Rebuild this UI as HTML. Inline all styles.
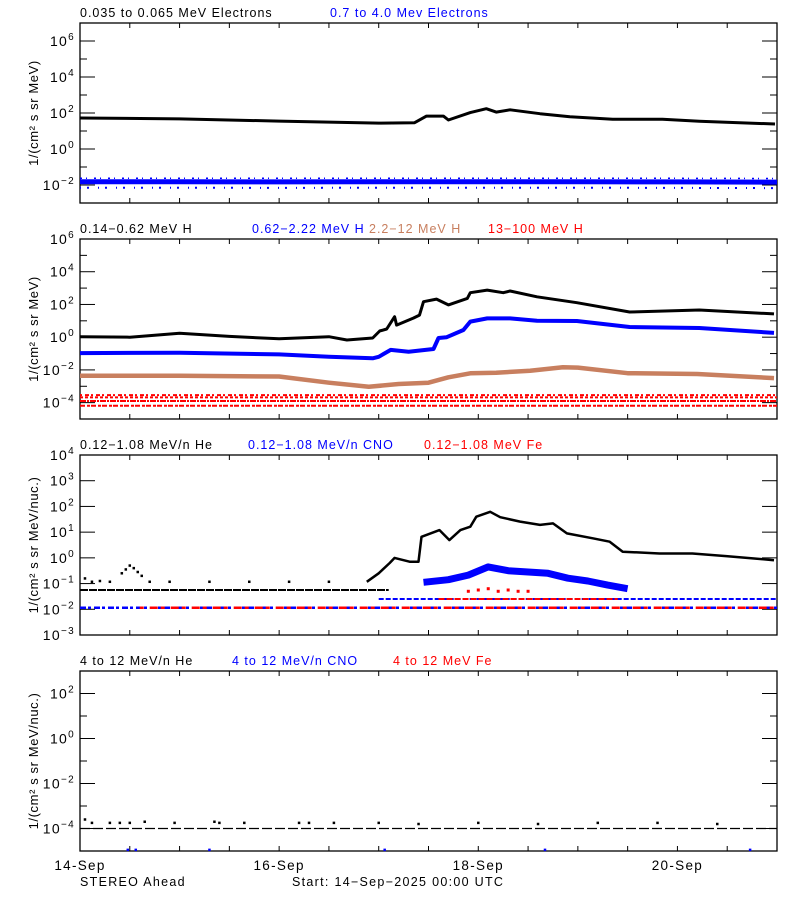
<!DOCTYPE html>
<html><head><meta charset="utf-8"><style>
body{margin:0;background:#fff;}
svg text{font-family:"Liberation Sans",sans-serif;letter-spacing:1.3px;}
svg text.leg{letter-spacing:1px;}
svg text.yt{letter-spacing:0.6px;}
</style></head><body>
<svg id="c" width="800" height="900" xmlns="http://www.w3.org/2000/svg" style="display:block;background:#fff">
</svg>
<script>
// ---- data (time in days since 14-Sep 00:00 UTC; values are log10 flux) ----
const dayTicks = ["14-Sep","16-Sep","18-Sep","20-Sep"];
const eLoT = [0,1,2,3,3.36,3.48,3.65,3.7,3.92,4.08,4.18,4.32,4.62,4.92,5.35,5.85,6.22,6.98];
const eLoL = [1.72,1.67,1.55,1.44,1.46,1.83,1.83,1.61,2.02,2.24,2.05,2.18,1.96,1.79,1.65,1.65,1.54,1.39];
const eHiT = [0,1,2,3,4,5,6,7];
const eHiL = [-1.82,-1.82,-1.83,-1.82,-1.82,-1.82,-1.83,-1.84];
const hLoT = [0,0.5,1,1.5,2,2.5,2.68,2.94,3.01,3.08,3.16,3.18,3.35,3.41,3.45,3.58,3.7,3.89,3.92,4.09,4.25,4.32,4.59,4.99,5.52,6.22,6.97];
const hLoL = [0.03,0.0,0.24,0.05,-0.1,0.03,-0.17,-0.05,0.38,0.5,1.25,0.74,1.17,1.35,2.17,2.33,1.97,2.37,2.72,2.88,2.72,2.82,2.47,2.11,1.54,1.66,1.42];
const hMidT = [0,1,2,2.5,2.94,3.0,3.12,3.3,3.55,3.6,3.68,3.85,3.92,4.09,4.32,4.59,4.99,5.52,6.22,6.97];
const hMidL = [-0.97,-0.95,-1.05,-1.2,-1.29,-1.2,-0.78,-0.89,-0.72,-0.05,-0.01,0.44,0.95,1.15,1.15,1.01,0.99,0.62,0.56,0.26];
const hHiT = [0,1,2,2.5,2.9,3.2,3.5,3.7,3.92,4.18,4.52,4.85,5.0,5.5,6.2,6.97];
const hHiL = [-2.36,-2.36,-2.4,-2.78,-3.03,-2.86,-2.78,-2.45,-2.21,-2.17,-2.05,-1.84,-1.86,-2.2,-2.25,-2.5];
const hTopLevels = [-3.54,-3.68,-3.9,-4.19];
const heT = [2.88,3.0,3.11,3.16,3.31,3.4,3.43,3.61,3.71,3.82,3.92,3.98,4.12,4.22,4.42,4.62,4.75,4.89,5.15,5.32,5.45,5.82,6.15,6.49,6.97];
const heL = [-0.93,-0.6,-0.2,0.0,-0.15,-0.15,0.82,1.08,0.69,1.08,1.21,1.6,1.79,1.58,1.41,1.28,1.34,0.95,0.76,0.63,0.24,0.17,0.17,0.07,-0.09];
const heSparseT = [0.05,0.12,0.2,0.3,0.42,0.46,0.5,0.54,0.58,0.62,0.7,0.9,1.3,1.7,2.1,2.5];
const heSparseL = [-0.8,-0.93,-0.9,-0.93,-0.6,-0.45,-0.3,-0.4,-0.55,-0.7,-0.93,-0.93,-0.93,-0.93,-0.93,-0.93];
const heBase = -1.25;
const cnoT = [3.45,3.7,3.9,4.1,4.3,4.5,4.7,4.9,5.1,5.3,5.5];
const cnoL = [-0.95,-0.85,-0.67,-0.35,-0.5,-0.55,-0.6,-0.79,-0.9,-1.06,-1.2];
const lowBase = -1.94, cnoBase = -1.6;
const feBumpT = [3.9,4.0,4.1,4.2,4.3,4.4,4.5];
const feBumpL = [-1.3,-1.25,-1.2,-1.3,-1.25,-1.3,-1.3];
const he4Base = -4;
const he4DotT = [0.05,0.12,0.3,0.4,0.5,0.65,0.95,1.35,1.4,1.65,2.2,2.3,2.55,3.0,3.4,4.0,4.6,5.2,5.8,6.4];
const he4DotL = [-3.6,-3.75,-3.75,-3.75,-3.75,-3.7,-3.75,-3.7,-3.75,-3.75,-3.75,-3.75,-3.75,-3.75,-3.8,-3.75,-3.8,-3.75,-3.75,-3.8];
const cno4DotT = [0.48,0.56,1.3,3.06,4.67,6.73];
const cno4DotL = [-4.95,-4.95,-4.95,-4.95,-4.95,-4.95];

const svg = document.getElementById('c');
const NS = "http://www.w3.org/2000/svg";
const X0 = 80, X1 = 777, DAYS = 7;
const xs = t => X0 + t/DAYS*(X1-X0);
function el(tag, attrs, parent){const e=document.createElementNS(NS,tag);for(const k in attrs)e.setAttribute(k,attrs[k]);(parent||svg).appendChild(e);return e;}

const panels = [
 {top:23,bot:203,lmin:-3,lmax:7,major:[-2,0,2,4,6],minor:[-1,1,3,5],ylab:"1/(cm\u00B2 s sr MeV)"},
 {top:239,bot:419,lmin:-5,lmax:6,major:[-4,-2,0,2,4,6],minor:[-3,-1,1,3,5],ylab:"1/(cm\u00B2 s sr MeV)"},
 {top:455,bot:635,lmin:-3,lmax:4,major:[-3,-2,-1,0,1,2,3,4],minor:[],ylab:"1/(cm\u00B2 s sr MeV/nuc.)"},
 {top:671,bot:851,lmin:-5,lmax:3,major:[-4,-2,0,2],minor:[-3,-1,1],ylab:"1/(cm\u00B2 s sr MeV/nuc.)"}
];
const titles = [
 [["0.035 to 0.065 MeV Electrons",80,"#000"],["0.7 to 4.0 Mev Electrons",330,"#0000ff"]],
 [["0.14\u22120.62 MeV H",80,"#000"],["0.62\u22122.22 MeV H",252,"#0000ff"],["2.2\u221212 MeV H",369,"#c87f5f"],["13\u2212100 MeV H",488,"#ff0000"]],
 [["0.12\u22121.08 MeV/n He",80,"#000"],["0.12\u22121.08 MeV/n CNO",248,"#0000ff"],["0.12\u22121.08 MeV Fe",424,"#ff0000"]],
 [["4 to 12 MeV/n He",80,"#000"],["4 to 12 MeV/n CNO",232,"#0000ff"],["4 to 12 MeV Fe",393,"#ff0000"]]
];

panels.forEach((p,i)=>{
  p.y = l => p.top + (p.lmax-l)/(p.lmax-p.lmin)*(p.bot-p.top);
  const g = el('g',{});
  
  
  p.g = g;
  const fr = el('rect',{x:X0,y:p.top,width:X1-X0,height:p.bot-p.top,fill:'none',stroke:'#000','stroke-width':1.3},g);
  
  
  for(let h=1;h<14;h++){
    const x=xs(h/2);
    el('line',{x1:x,x2:x,y1:p.bot,y2:p.bot-5,stroke:'#000'},g);
    el('line',{x1:x,x2:x,y1:p.top,y2:p.top+5,stroke:'#000'},g);
  }
  p.major.forEach(l=>{
    const y=p.y(l);
    el('line',{x1:X0,x2:X0+15,y1:y,y2:y,stroke:'#000'},g);
    el('line',{x1:X1,x2:X1-15,y1:y,y2:y,stroke:'#000'},g);
    const t=el('text',{x:75,y:y+5,'font-size':14,'text-anchor':'end'},g);
    
    
    const a=document.createElementNS(NS,'tspan');a.textContent='10';t.appendChild(a);
    const b=document.createElementNS(NS,'tspan');b.setAttribute('dy','-6');b.setAttribute('font-size','10');b.textContent=String(l).replace('-','\u2212');t.appendChild(b);
  });
  p.minor.forEach(l=>{
    const y=p.y(l);
    el('line',{x1:X0,x2:X0+7,y1:y,y2:y,stroke:'#000'},g);
    el('line',{x1:X1,x2:X1-7,y1:y,y2:y,stroke:'#000'},g);
  });
  const cy=(p.top+p.bot)/2;
  const yl=el('text',{x:38,y:cy,'font-size':13,'text-anchor':'middle','class':'yt',transform:`rotate(-90 38 ${cy})`},g);
  yl.textContent=p.ylab;
  
  
  titles[i].forEach(([s,x,c])=>{
    const t=el('text',{x:x,y:p.top-6,'font-size':12.5,fill:c,'class':'leg'},g);
    t.textContent=s;
    
    
  });
});

function line(p,T,L,color,w,name,dash){
  const pts=T.map((t,i)=>xs(t).toFixed(1)+','+p.y(L[i]).toFixed(1)).join(' ');
  const e=el('polyline',{points:pts,fill:'none',stroke:color,'stroke-width':w,'stroke-linejoin':'round'},p.g);
  if(dash)e.setAttribute('stroke-dasharray',dash);
  
  
  return e;
}
function hline(p,t0,t1,l,color,w,dash,name){return line(p,[t0,t1],[l,l],color,w,name,dash);}
function dots(p,T,L,color,s,name){
  T.forEach((t,i)=>{
    const r=el('rect',{x:xs(t)-s/2,y:p.y(L[i])-s/2,width:s,height:s,fill:color},p.g);
    
    
  });
}
const P=panels;
// panel 1
line(P[0],eHiT,eHiL,'#0000ff',5,'series-electrons-high');
line(P[0],eHiT,eHiL.map(v=>v+0.2),'#0000ff',1.5,'series-electrons-high-scatter-top','2 4 1 7');
line(P[0],eHiT,eHiL.map(v=>v-0.33),'#0000ff',2,'series-electrons-high-scatter','1 6 2 9');
line(P[0],eLoT,eLoL,'#000',3,'series-electrons-low');
// panel 2
hTopLevels.forEach((l,i)=>hline(P[1],0,7,l,'#ff0000',2,['2 3 4 2','3 2','6 1 2 1','5 2 3 1'][i],'series-h-13-100'));
line(P[1],hHiT,hHiL,'#c87f5f',4.5,'series-h-2-12');
line(P[1],hMidT,hMidL,'#0000ff',4,'series-h-062-222');
line(P[1],hLoT,hLoL,'#000',3,'series-h-014-062');
// panel 3
hline(P[2],0,7,lowBase,'#0000ff',2.5,'6 2 3 3','series-cno-base');
hline(P[2],0.6,7,lowBase,'#ff0000',2.5,'4 6 8 3','series-fe-base');
hline(P[2],3.0,7,cnoBase,'#0000ff',2,'5 2','series-cno-upper-base');
hline(P[2],3.6,5.4,cnoBase,'#ff0000',2,'6 2','series-fe-upper-base');
hline(P[2],0,3.1,heBase,'#000',2,'8 1','series-he-base');
dots(P[2],feBumpT,feBumpL,'#ff0000',3,'series-fe-bump');
line(P[2],cnoT,cnoL,'#0000ff',7,'series-cno');
dots(P[2],heSparseT,heSparseL,'#000',2.5,'series-he-sparse');
line(P[2],heT,heL,'#000',2.5,'series-he');
// panel 4
hline(P[3],0,7,he4Base,'#000',1.2,'10 3','series-he-4-12');
dots(P[3],he4DotT,he4DotL,'#000',2.5,'series-he-4-12-dots');
dots(P[3],cno4DotT,cno4DotL,'#0000ff',2.5,'series-cno-4-12');
// x labels
dayTicks.forEach((s,i)=>{
  const t=el('text',{x:xs(i*2),y:870,'font-size':13.5,'text-anchor':'middle'});
  t.textContent=s;
  
  
});
const f1=el('text',{x:80,y:886,'font-size':12.5});f1.textContent='STEREO Ahead';


const f2=el('text',{x:292,y:886,'font-size':12.5});f2.textContent='Start: 14\u2212Sep\u22122025 00:00 UTC';


</script>
</body></html>
